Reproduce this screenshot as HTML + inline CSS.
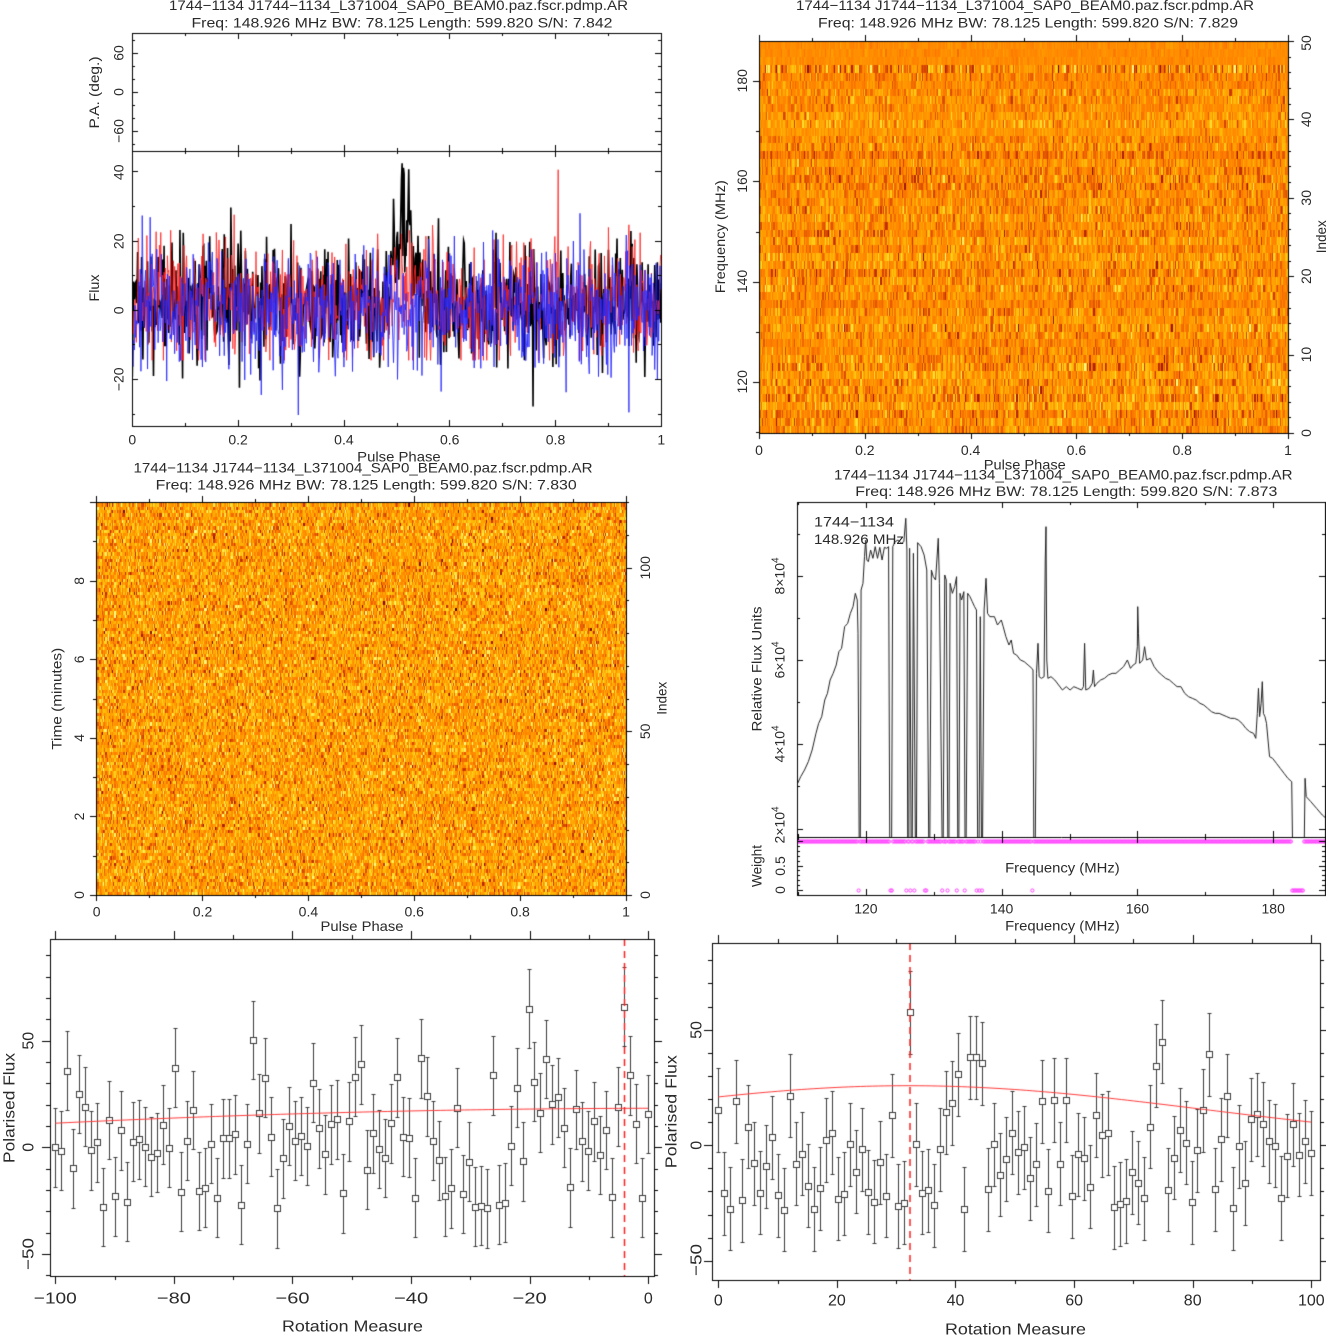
<!DOCTYPE html>
<html><head><meta charset="utf-8">
<style>
html,body{margin:0;padding:0;background:#fff;}
#wrap{position:relative;width:1326px;height:1335px;overflow:hidden;background:#fff;}
canvas,svg{position:absolute;left:0;top:0;}
text{font-family:"Liberation Sans",sans-serif;fill:#2a2a2a;font-size:14px;}
.b text{font-size:16px;}
</style></head><body>
<div id="wrap">
<canvas id="c" width="1326" height="1335"></canvas>
<svg width="1326" height="1335" xmlns="http://www.w3.org/2000/svg">
<!-- Panel 1 -->
<text x="169" y="10" textLength="459" lengthAdjust="spacingAndGlyphs">1744−1134 J1744−1134_L371004_SAP0_BEAM0.paz.fscr.pdmp.AR</text>
<text x="191.5" y="27.7" textLength="421" lengthAdjust="spacingAndGlyphs">Freq: 148.926 MHz BW: 78.125 Length: 599.820 S/N: 7.842</text>
<g text-anchor="middle">
<text x="132.3" y="444.3">0</text><text x="238.1" y="444.3">0.2</text><text x="343.9" y="444.3">0.4</text><text x="449.7" y="444.3">0.6</text><text x="555.5" y="444.3">0.8</text><text x="661.3" y="444.3">1</text>
<text transform="translate(118.5,53) rotate(-90)" y="5">60</text>
<text transform="translate(118.5,92) rotate(-90)" y="5">0</text>
<text transform="translate(118.5,131) rotate(-90)" y="5">−60</text>
<text transform="translate(118.5,172.3) rotate(-90)" y="5">40</text>
<text transform="translate(118.5,241.3) rotate(-90)" y="5">20</text>
<text transform="translate(118.5,310.3) rotate(-90)" y="5">0</text>
<text transform="translate(118.5,379.3) rotate(-90)" y="5">−20</text>
</g>
<text x="357.2" y="461.7" textLength="83.5" lengthAdjust="spacingAndGlyphs">Pulse Phase</text>
<text transform="translate(94,92.5) rotate(-90)" x="-36" y="5" textLength="72" lengthAdjust="spacingAndGlyphs">P.A. (deg.)</text>
<text transform="translate(94,288) rotate(-90)" x="-13.5" y="5" textLength="27" lengthAdjust="spacingAndGlyphs">Flux</text>

<!-- Panel 2 -->
<text x="796" y="10" textLength="458" lengthAdjust="spacingAndGlyphs">1744−1134 J1744−1134_L371004_SAP0_BEAM0.paz.fscr.pdmp.AR</text>
<text x="818" y="27.7" textLength="420" lengthAdjust="spacingAndGlyphs">Freq: 148.926 MHz BW: 78.125 Length: 599.820 S/N: 7.829</text>
<g text-anchor="middle">
<text x="759" y="455">0</text><text x="864.8" y="455">0.2</text><text x="970.6" y="455">0.4</text><text x="1076.4" y="455">0.6</text><text x="1182.2" y="455">0.8</text><text x="1288" y="455">1</text>
<text transform="translate(742,381.8) rotate(-90)" y="5">120</text>
<text transform="translate(742,281.5) rotate(-90)" y="5">140</text>
<text transform="translate(742,181.1) rotate(-90)" y="5">160</text>
<text transform="translate(742,80.8) rotate(-90)" y="5">180</text>
<text transform="translate(1306,433) rotate(-90)" y="5">0</text>
<text transform="translate(1306,354.6) rotate(-90)" y="5">10</text>
<text transform="translate(1306,276.2) rotate(-90)" y="5">20</text>
<text transform="translate(1306,197.8) rotate(-90)" y="5">30</text>
<text transform="translate(1306,119.4) rotate(-90)" y="5">40</text>
<text transform="translate(1306,43) rotate(-90)" y="5">50</text>
</g>
<text x="983.8" y="469.3" textLength="82" lengthAdjust="spacingAndGlyphs">Pulse Phase</text>
<text transform="translate(720,236.7) rotate(-90)" x="-56.5" y="5" textLength="113" lengthAdjust="spacingAndGlyphs">Frequency (MHz)</text>
<text transform="translate(1321,236.7) rotate(-90)" x="-16.5" y="5" textLength="33" lengthAdjust="spacingAndGlyphs">Index</text>

<!-- Panel 3 -->
<text x="133.5" y="472.7" textLength="459" lengthAdjust="spacingAndGlyphs">1744−1134 J1744−1134_L371004_SAP0_BEAM0.paz.fscr.pdmp.AR</text>
<text x="155.7" y="489.3" textLength="421" lengthAdjust="spacingAndGlyphs">Freq: 148.926 MHz BW: 78.125 Length: 599.820 S/N: 7.830</text>
<g text-anchor="middle">
<text x="96.6" y="916.7">0</text><text x="202.5" y="916.7">0.2</text><text x="308.4" y="916.7">0.4</text><text x="414.2" y="916.7">0.6</text><text x="520.1" y="916.7">0.8</text><text x="626" y="916.7">1</text>
<text transform="translate(79,895) rotate(-90)" y="5">0</text>
<text transform="translate(79,816.5) rotate(-90)" y="5">2</text>
<text transform="translate(79,737.9) rotate(-90)" y="5">4</text>
<text transform="translate(79,659.4) rotate(-90)" y="5">6</text>
<text transform="translate(79,580.8) rotate(-90)" y="5">8</text>
<text transform="translate(645,895) rotate(-90)" y="5">0</text>
<text transform="translate(645,731.4) rotate(-90)" y="5">50</text>
<text transform="translate(645,567.8) rotate(-90)" y="5">100</text>
</g>
<text x="320.5" y="931" textLength="83" lengthAdjust="spacingAndGlyphs">Pulse Phase</text>
<text transform="translate(56.4,698.8) rotate(-90)" x="-51" y="5" textLength="102" lengthAdjust="spacingAndGlyphs">Time (minutes)</text>
<text transform="translate(661.5,698.3) rotate(-90)" x="-16.5" y="5" textLength="33" lengthAdjust="spacingAndGlyphs">Index</text>

<!-- Panel 4 -->
<text x="834" y="479.3" textLength="458.5" lengthAdjust="spacingAndGlyphs">1744−1134 J1744−1134_L371004_SAP0_BEAM0.paz.fscr.pdmp.AR</text>
<text x="855.3" y="496" textLength="422" lengthAdjust="spacingAndGlyphs">Freq: 148.926 MHz BW: 78.125 Length: 599.820 S/N: 7.873</text>
<text x="814" y="526.7" textLength="80" lengthAdjust="spacingAndGlyphs">1744−1134</text>
<text x="814" y="544" textLength="90" lengthAdjust="spacingAndGlyphs">148.926 MHz</text>
<g text-anchor="middle">
<text transform="translate(779.7,576) rotate(-90)" y="5">8×10<tspan dy="-6" font-size="10">4</tspan></text>
<text transform="translate(779.7,660) rotate(-90)" y="5">6×10<tspan dy="-6" font-size="10">4</tspan></text>
<text transform="translate(779.7,744) rotate(-90)" y="5">4×10<tspan dy="-6" font-size="10">4</tspan></text>
<text transform="translate(779.7,825) rotate(-90)" y="5">2×10<tspan dy="-6" font-size="10">4</tspan></text>
<text transform="translate(780,890) rotate(-90)" y="5">0</text>
<text transform="translate(780,866) rotate(-90)" y="5">0.5</text>
<text x="865.9" y="913.3">120</text><text x="1001.6" y="913.3">140</text><text x="1137.4" y="913.3">160</text><text x="1273.2" y="913.3">180</text>
</g>
<text transform="translate(756.7,669) rotate(-90)" x="-62.5" y="5" textLength="125" lengthAdjust="spacingAndGlyphs">Relative Flux Units</text>
<text transform="translate(756.7,866) rotate(-90)" x="-21" y="5" textLength="42" lengthAdjust="spacingAndGlyphs">Weight</text>
<text x="1005.1" y="872.3" textLength="114.6" lengthAdjust="spacingAndGlyphs">Frequency (MHz)</text>
<text x="1005.1" y="930.7" textLength="114.6" lengthAdjust="spacingAndGlyphs">Frequency (MHz)</text>

<!-- Panel 5 -->
<g class="b">
<g text-anchor="middle">
<text transform="translate(28,1040.7) rotate(-90)" y="5.7">50</text>
<text transform="translate(28,1147.3) rotate(-90)" y="5.7">0</text>
<text x="648.3" y="1303.4">0</text>
</g>
<text transform="translate(28,1254) rotate(-90)" x="-16" y="5.7" textLength="32" lengthAdjust="spacingAndGlyphs">−50</text>
<text x="33.8" y="1303.4" textLength="43" lengthAdjust="spacingAndGlyphs">−100</text>
<text x="156.9" y="1303.4" textLength="34" lengthAdjust="spacingAndGlyphs">−80</text>
<text x="275.5" y="1303.4" textLength="34" lengthAdjust="spacingAndGlyphs">−60</text>
<text x="394.1" y="1303.4" textLength="34" lengthAdjust="spacingAndGlyphs">−40</text>
<text x="512.7" y="1303.4" textLength="34" lengthAdjust="spacingAndGlyphs">−20</text>
<text transform="translate(9,1108) rotate(-90)" x="-55" y="5.7" textLength="110" lengthAdjust="spacingAndGlyphs">Polarised Flux</text>
<text x="282" y="1331.4" textLength="141" lengthAdjust="spacingAndGlyphs">Rotation Measure</text>

<!-- Panel 6 -->
<g text-anchor="middle">
<text transform="translate(696,1030) rotate(-90)" y="5.7">50</text>
<text transform="translate(696,1145.3) rotate(-90)" y="5.7">0</text>
<text x="718.3" y="1305.7">0</text><text x="836.9" y="1305.7">20</text><text x="955.5" y="1305.7">40</text><text x="1074.1" y="1305.7">60</text><text x="1192.7" y="1305.7">80</text><text x="1311.3" y="1305.7">100</text>
</g>
<text transform="translate(696,1260) rotate(-90)" x="-16" y="5.7" textLength="32" lengthAdjust="spacingAndGlyphs">−50</text>
<text transform="translate(671,1111.7) rotate(-90)" x="-56.5" y="5.7" textLength="113" lengthAdjust="spacingAndGlyphs">Polarised Flux</text>
<text x="945" y="1334.7" textLength="141" lengthAdjust="spacingAndGlyphs">Rotation Measure</text>
</g>
</svg>
</div>
<script>
(function(){
const c=document.getElementById('c'),g=c.getContext('2d');
g.fillStyle='#fff';g.fillRect(0,0,1326,1335);
let S=987654321;
function R(){S^=S<<13;S>>>=0;S^=S>>>17;S^=S<<5;S>>>=0;return S/4294967296;}
function N(){let u=R()||1e-9,v=R();return Math.sqrt(-2*Math.log(u))*Math.cos(6.283185307*v);}
const stops=[[0,80,0,0],[0.2,160,20,0],[0.35,215,70,0],[0.5,255,125,0],[0.62,255,155,0],[0.75,255,190,10],[0.88,255,225,50],[1,255,250,130]];
function cmap(t){t=Math.max(0,Math.min(1,t));for(let i=1;i<stops.length;i++){if(t<=stops[i][0]){const a=stops[i-1],b=stops[i],f=(t-a[0])/(b[0]-a[0]);return [a[1]+f*(b[1]-a[1]),a[2]+f*(b[2]-a[2]),a[3]+f*(b[3]-a[3])];}}return [255,250,130];}
function heat(x0,y0,x1,y1,nr,nc,fn){
 const W=x1-x0,H=y1-y0;const img=g.createImageData(W,H);
 const vals=[];for(let r=0;r<nr;r++){const row=[];for(let k=0;k<nc;k++)row.push(cmap(fn(r,k)));vals.push(row);}
 for(let py=0;py<H;py++){const r=nr-1-Math.min(nr-1,Math.floor(py/H*nr));const row=vals[r];
  for(let px=0;px<W;px++){const k=Math.min(nc-1,Math.floor(px/W*nc));const col=row[k];const o=(py*W+px)*4;
   img.data[o]=col[0];img.data[o+1]=col[1];img.data[o+2]=col[2];img.data[o+3]=255;}}
 g.putImageData(img,x0,y0);
}
function poly(p,col,w,dash){g.beginPath();g.strokeStyle=col;g.lineWidth=w||1;g.setLineDash(dash||[]);
 p.forEach((q,i)=>i?g.lineTo(q[0],q[1]):g.moveTo(q[0],q[1]));g.stroke();g.setLineDash([]);}
function frame(x0,y0,x1,y1){g.strokeStyle='#000';g.lineWidth=1;g.strokeRect(x0+0.5,y0+0.5,x1-x0,y1-y0);}
function hline(x0,x1,y){g.strokeStyle='#000';g.lineWidth=1;g.beginPath();g.moveTo(x0,y+0.5);g.lineTo(x1,y+0.5);g.stroke();}
function ticks(axis,a0,a1,v0,v1,pos,dir,maj,min,lm,ln){
 g.strokeStyle='#000';g.lineWidth=1;g.beginPath();
 const s=Math.ceil(v0/min-1e-6),e=Math.floor(v1/min+1e-6);
 for(let i=s;i<=e;i++){const v=i*min;let p=Math.round(a0+(v-v0)/(v1-v0)*(a1-a0))+0.5;
  if(axis==='x'&&p>1325.5)continue;
  const r=v/maj;const l=Math.abs(r-Math.round(r))<1e-6?lm:ln;
  if(axis==='x'){g.moveTo(p,pos);g.lineTo(p,pos+dir*l);}else{g.moveTo(pos,p);g.lineTo(pos+dir*l,p);}}
 g.stroke();
}

/* ---------- Panel 1 ---------- */
(function(){
 const x0=132,x1=661,nb=800;
 const X=k=>x0+(k+0.5)/nb*(x1-x0);
 const Y=v=>310.3-v*3.45;
 const I=[],Lp=[],V=[];
 for(let k=0;k<nb;k++){const ph=k/nb;
  I.push(1.5+8.8*N()+24*Math.exp(-Math.pow(ph-0.512,2)/(2*0.017*0.017)));
  Lp.push(Math.max(-14.5,3+9.5*N()+5*Math.exp(-Math.pow(ph-0.51,2)/(2*0.017*0.017))));
  V.push(9.5*N());}
 g.save();g.beginPath();g.rect(x0,151,x1-x0,275);g.clip();
 poly(I.map((v,k)=>[X(k),Y(v)]),'#000',1.6);
 poly(Lp.map((v,k)=>[X(k),Y(v)]),'rgba(255,40,40,0.85)',1);
 poly(V.map((v,k)=>[X(k),Y(v)]),'rgba(40,40,255,0.85)',1);
 g.restore();
 frame(132,33,661,426);hline(132,661,151);
 ticks('x',132,661,0,1,33,1,0.2,0.1,6,3);
 ticks('x',132,661,0,1,151,-1,0.2,0.1,6,3);
 ticks('x',132,661,0,1,151,1,0.2,0.1,6,3);
 ticks('x',132,661,0,1,426,-1,0.2,0.1,6,3);
 ticks('y',151,33,-90,90,132,1,60,20,6,3);
 ticks('y',151,33,-90,90,661,-1,60,20,6,3);
 ticks('y',426,151,-33.6,45.9,132,1,20,10,6,3);
 ticks('y',426,151,-33.6,45.9,661,-1,20,10,6,3);
})();

/* ---------- Panel 2 ---------- */
(function(){
 const off=[],sd=[];
 for(let r=0;r<50;r++){off.push(0.03*N());sd.push(r>=47?0.035:(r==46?0.18:0.095+0.04*(1-r/46)+0.015*N()));}
 heat(759,41,1288,433,50,420,(r,k)=>(r>=47?0.56:0.575+off[r])+sd[r]*N());
 frame(759,41,1288,433);
 ticks('x',759,1288,0,1,433,1,0.2,0.1,6,3);
 ticks('x',759,1288,0,1,41,-1,0.2,0.1,6,3);
 ticks('y',433,41,109.86,187.99,759,-1,20,10,6,3);
 ticks('y',433,41,0,50,1288,1,10,2,6,3);
})();

/* ---------- Panel 3 ---------- */
(function(){
 heat(97,503,626,895,120,470,(r,k)=>0.63+0.155*N());
 frame(96,502,626,895);
 ticks('x',96,626,0,1,895,1,0.2,0.1,6,3);
 ticks('x',96,626,0,1,502,-1,0.2,0.1,6,3);
 ticks('y',895,502,0,10,96,-1,2,1,6,3);
 ticks('y',895,502,0,120,626,1,50,10,6,3);
})();

/* ---------- Panel 4 ---------- */
(function(){
 const sp=[[175,975],[185,950],[195,930],[205,905],[215,870],[225,820],[232,790],[240,770],[248,720],[255,700],[262,660],[270,640],[278,615],[285,575],[292,565],[300,500],[308,490],[315,460],[322,440],[328,400],[333,420],[335,520],[338,1135],[341,1135],[343,390],[348,370],[352,290],[355,240],[358,300],[362,305],[368,270],[374,295],[380,260],[386,295],[392,262],[398,300],[404,262],[410,265],[415,260],[418,1135],[423,1135],[426,260],[432,245],[440,240],[448,250],[455,245],[460,175],[463,270],[465,1135],[468,1135],[470,265],[474,1135],[477,1135],[480,280],[485,1135],[488,1135],[491,248],[500,260],[508,285],[515,330],[520,1135],[523,1135],[527,330],[532,350],[538,360],[545,235],[548,370],[555,1135],[558,1135],[562,345],[566,360],[570,1135],[573,1135],[576,370],[582,400],[588,380],[593,350],[596,1135],[599,1135],[602,400],[606,420],[612,395],[615,1135],[618,1135],[622,400],[628,410],[634,425],[640,440],[645,450],[648,1135],[652,1135],[655,470],[658,1135],[661,1135],[665,450],[670,355],[674,460],[680,470],[688,470],[692,470],[700,495],[710,480],[715,500],[722,530],[730,555],[736,540],[742,580],[750,585],[760,600],[770,605],[780,615],[790,625],[793,630],[795,1135],[799,1135],[802,640],[806,550],[809,650],[815,655],[822,650],[825,300],[827,200],[829,600],[832,655],[840,650],[850,660],[860,675],[870,690],[880,680],[890,690],[900,680],[910,685],[920,690],[925,680],[928,550],[931,690],[940,685],[948,670],[951,630],[954,680],[960,670],[970,660],[980,655],[990,645],[1000,640],[1010,640],[1020,630],[1030,620],[1040,600],[1048,625],[1055,615],[1062,610],[1066,560],[1067,440],[1069,520],[1072,610],[1080,600],[1085,560],[1090,600],[1100,595],[1110,620],[1120,635],[1130,645],[1140,655],[1150,660],[1160,670],[1170,680],[1180,680],[1190,700],[1200,710],[1210,715],[1220,720],[1230,730],[1240,735],[1250,745],[1260,755],[1270,760],[1280,760],[1290,765],[1300,770],[1310,775],[1320,775],[1330,780],[1340,790],[1350,805],[1360,815],[1370,820],[1376,835],[1380,760],[1383,685],[1386,770],[1390,730],[1393,665],[1396,760],[1400,770],[1404,790],[1408,840],[1412,890],[1420,895],[1430,910],[1440,925],[1450,940],[1460,955],[1470,965],[1472,1135],[1503,1135],[1505,955],[1508,1010],[1520,1025],[1535,1045],[1550,1065],[1565,1080]];
 g.save();g.beginPath();g.rect(797,502,528,335);g.clip();
 poly(sp.map(p=>[730+p[0]/2.617,460+p[1]/3]),'#222',1);
 g.restore();
 const bad=[118.9,123.7,123.85,125.9,126.5,127.1,128.7,128.9,131.2,132,133.3,134.5,136.3,136.7,137.1,144.5,144.6];
 g.save();g.beginPath();g.rect(797,837,528,58);g.clip();
 g.strokeStyle='#ff44ff';g.lineWidth=1;
 for(let i=0;i<400;i++){const f=109.86+(i+0.5)*0.1953;
  const w=((f>182.8&&f<184.5)||bad.some(b=>Math.abs(b-f)<0.098))?0:1;
  const x=797+(f-109.86)*6.79,y=890-w*49;
  g.beginPath();g.arc(x,y+0.5,1.6,0,6.2832);g.stroke();}
 g.restore();
 frame(797,502,1325,895);hline(797,1326,837);
 ticks('x',797,1327.5,109.86,187.99,502,1,20,10,6,3);
 ticks('x',797,1327.5,109.86,187.99,837,-1,20,10,6,3);
 ticks('x',797,1327.5,109.86,187.99,837,1,20,10,6,3);
 ticks('x',797,1327.5,109.86,187.99,895,-1,20,10,6,3);
 ticks('y',837,502,18000,97600,797,1,20000,10000,6,3);
 ticks('y',837,502,18000,97600,1325,-1,20000,10000,6,3);
 ticks('y',895,837,-0.102,1.082,797,1,0.5,0.1,6,3);
 ticks('y',895,837,-0.102,1.082,1325,-1,0.5,0.1,6,3);
})();

function pts(vals,X,Y,e){
 g.strokeStyle='#3c3c3c';g.lineWidth=1;
 vals.forEach((v,i)=>{const x=Math.round(X(i))+0.5,y=Math.round(Y(v))+0.5;
  const yt=Math.round(Y(v+e))+0.5,yb=Math.round(Y(v-e))+0.5;
  g.beginPath();g.moveTo(x,yt);g.lineTo(x,y-3);g.moveTo(x,y+3);g.lineTo(x,yb);
  g.moveTo(x-2,yt);g.lineTo(x+2,yt);g.moveTo(x-2,yb);g.lineTo(x+2,yb);g.stroke();
  g.strokeRect(x-3,y-3,6,6);});
}

/* ---------- Panel 5 ---------- */
(function(){
 const v=[0,-1.7,36,-9.8,25,19,-1.3,2.3,-28,12.8,-23,8,-25.6,2.7,3.8,0.3,-4.4,-2.5,10.5,-0.2,37.2,-20.8,3,17.5,-20.5,-19,1.6,-23.6,4.2,4.2,6.2,-27,1.7,50.3,16,32.7,5,-28.6,-5.2,10,3.1,5.3,0.6,30.3,8.9,-3.3,10.8,13.1,-21.6,12.3,33,39,-10.6,6.6,-0.8,-5,11.2,32.8,5,4.5,-23.6,41.7,24,3,-6,-23,-19.2,18.6,-21.9,-6.7,-27.8,-27.5,-28.6,33.7,-27,-26,0.8,28,-6.6,65,30.8,16.3,41.4,20.2,23.4,9.2,-18.8,17.8,2.8,-1.6,12.2,-3.6,8.1,-23.4,19,66,33.7,11,-23.6,15.6];
 const XR=rm=>648.3+rm*5.93, Y=f=>1147.3-f*2.133;
 pts(v,i=>XR(-100+i*100/99),Y,18.5);
 const cur=[];for(let rm=-100;rm<=0;rm+=1){cur.push([XR(rm),Y(-0.00064*rm*rm+0.006*rm+18.3)]);}
 poly(cur,'#ff3a3a',1);
 poly([[624.5,939],[624.5,1276]],'#ff2020',1.5,[7,5]);
 frame(50,939,654,1276);
 ticks('x',50,654,-100.89,0.96,1276,1,20,10,8,4);
 ticks('x',50,654,-100.89,0.96,939,-1,20,10,8,4);
 ticks('y',1276,939,-60.34,97.66,50,-1,50,10,8,4);
 ticks('y',1276,939,-60.34,97.66,654,1,50,10,8,4);
})();

/* ---------- Panel 6 ---------- */
(function(){
 const v=[15.3,-20.8,-27.4,19,-23.8,8.1,-7.8,-20.6,-9.1,3.5,-21.6,-27.8,21.4,-7.9,-3.6,-17.5,-27.6,-18.6,2.3,5.5,-23.2,-20.9,0.4,-11.5,-1.7,-20.2,-24.4,-7.4,-21.9,13,-26.3,-24.8,57.6,0.4,-20.6,-19.5,-26,-1.7,14.3,18.3,30.7,-27.6,38.1,38.1,35.5,-19,0.4,-12.7,-5.9,5.5,-3,-0.9,-14.3,-8.2,19,-19.6,19.6,-7.9,19.6,-22,-3.9,-5.6,-18,13.1,4.3,5.3,-26.8,-25.4,-24.1,-11.7,-16.2,-22.9,8.1,34.5,44.9,-19.3,-5.3,6.6,1.2,-24.7,-2.2,15.2,39.4,-19,2.6,21.4,-27.3,-0.4,-16.3,11.3,13.4,9.2,1.7,-0.1,-22.8,-4.5,9.1,-4,1.7,-3.3];
 const XR=rm=>718.3+rm*5.93, Y=f=>1145.3-f*2.31;
 pts(v,i=>XR(i*100/99),Y,18);
 const cur=[];for(let rm=0;rm<=100;rm+=1){cur.push([XR(rm),Y(25.8*Math.exp(-Math.pow(rm-32,2)/4900))]);}
 poly(cur,'#ff3a3a',1);
 poly([[910,943],[910,1280]],'#ff2020',1.5,[7,5]);
 frame(712,943,1320,1280);
 ticks('x',712,1320,-1.06,101.47,1280,1,20,10,8,4);
 ticks('x',712,1320,-1.06,101.47,943,-1,20,10,8,4);
 ticks('y',1280,943,-58.3,87.5,712,-1,50,10,8,4);
 ticks('y',1280,943,-58.3,87.5,1320,1,50,10,8,4);
})();
})();
</script>
</body></html>
